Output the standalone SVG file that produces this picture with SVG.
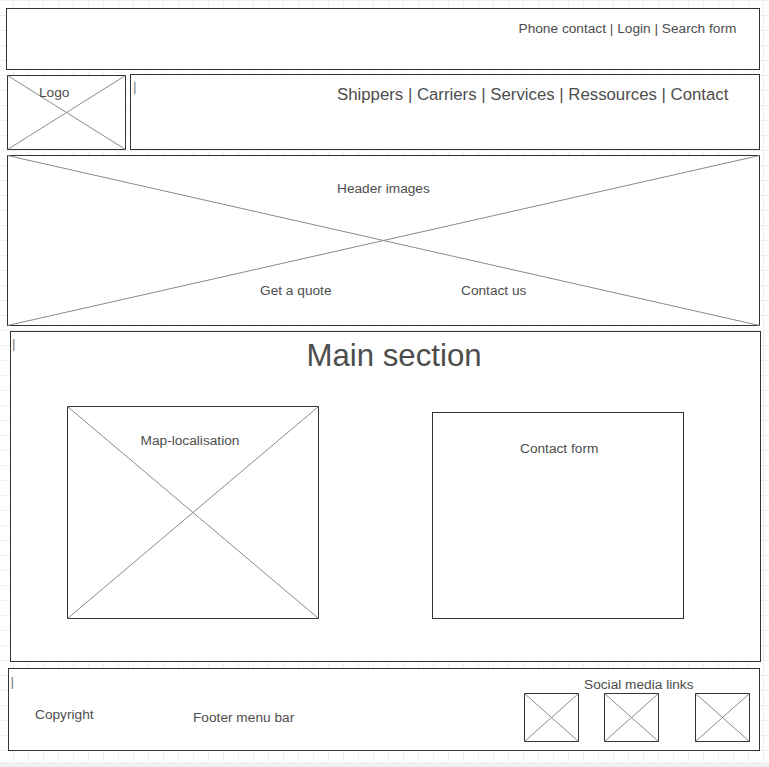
<svg xmlns="http://www.w3.org/2000/svg" width="769" height="767" viewBox="0 0 769 767">
  <style>
    .box { fill: #ffffff; stroke: #333333; stroke-width: 1; }
    .xl { stroke: #8a8a8a; stroke-width: 1; fill: none; }
    .t { font-family: "Liberation Sans", Arial, sans-serif; fill: #4d4d4d; font-size: 13.7px; }
    .cur { font-family: "Liberation Sans", Arial, sans-serif; fill: #777777; font-size: 13.7px; }
  </style>
  <defs>
    <pattern id="grid" patternUnits="userSpaceOnUse" x="13" y="0" width="15" height="15">
      <path d="M0.5 0 V15 M0 0.5 H15" stroke="#efefef" stroke-width="1" fill="none"/>
    </pattern>
  </defs>
  <rect x="0" y="0" width="769" height="767" fill="#ffffff"/>
  <rect x="0" y="0" width="769" height="762" fill="url(#grid)"/>
  <rect x="0" y="762" width="769" height="5" fill="#f0f0f0"/>

  <g id="top-bar">
    <rect class="box" x="6.5" y="8.5" width="753" height="61"/>
    <text class="t" x="518.5" y="33">Phone contact | Login | Search form</text>
  </g>

  <g id="logo">
    <rect class="box" x="7.5" y="75.5" width="118" height="74"/>
    <path class="xl" d="M7.5 75.5 L125.5 149.5 M7.5 149.5 L125.5 75.5"/>
    <text class="t" x="39" y="96.5">Logo</text>
  </g>

  <g id="nav">
    <rect class="box" x="130.5" y="74.5" width="629" height="75"/>
    <text class="cur" x="133" y="91">|</text>
    <text class="t" x="337" y="99.5" style="font-size:16.8px">Shippers | Carriers | Services | Ressources | Contact</text>
  </g>

  <g id="header-images">
    <rect class="box" x="7.5" y="155.5" width="752" height="170"/>
    <path class="xl" d="M7.5 155.5 L759.5 325.5 M7.5 325.5 L759.5 155.5"/>
    <text class="t" x="337" y="193">Header images</text>
    <text class="t" x="260" y="295">Get a quote</text>
    <text class="t" x="461" y="295">Contact us</text>
  </g>

  <g id="main-section">
    <rect class="box" x="10.5" y="331.5" width="750" height="330"/>
    <text class="cur" x="12" y="348">|</text>
    <text class="t" x="306.5" y="366" style="font-size:31.2px">Main section</text>
  </g>

  <g id="map">
    <rect class="box" x="67.5" y="406.5" width="251" height="212"/>
    <path class="xl" d="M67.5 406.5 L318.5 618.5 M67.5 618.5 L318.5 406.5"/>
    <text class="t" x="140.5" y="445">Map-localisation</text>
  </g>

  <g id="contact-form">
    <rect class="box" x="432.5" y="412.5" width="251" height="206"/>
    <text class="t" x="520" y="453">Contact form</text>
  </g>

  <g id="footer">
    <rect class="box" x="8.5" y="668.5" width="751" height="82"/>
    <text class="cur" x="10.5" y="685.5">|</text>
    <text class="t" x="35" y="718.5">Copyright</text>
    <text class="t" x="193" y="721.5">Footer menu bar</text>
    <text class="t" x="584" y="688.5">Social media links</text>
  </g>

  <g id="social-1">
    <rect class="box" x="524.5" y="693.5" width="54" height="48"/>
    <path class="xl" d="M524.5 693.5 L578.5 741.5 M524.5 741.5 L578.5 693.5"/>
  </g>
  <g id="social-2">
    <rect class="box" x="604.5" y="693.5" width="54" height="48"/>
    <path class="xl" d="M604.5 693.5 L658.5 741.5 M604.5 741.5 L658.5 693.5"/>
  </g>
  <g id="social-3">
    <rect class="box" x="695.5" y="693.5" width="54" height="48"/>
    <path class="xl" d="M695.5 693.5 L749.5 741.5 M695.5 741.5 L749.5 693.5"/>
  </g>

  <g id="connectors"/>
</svg>
